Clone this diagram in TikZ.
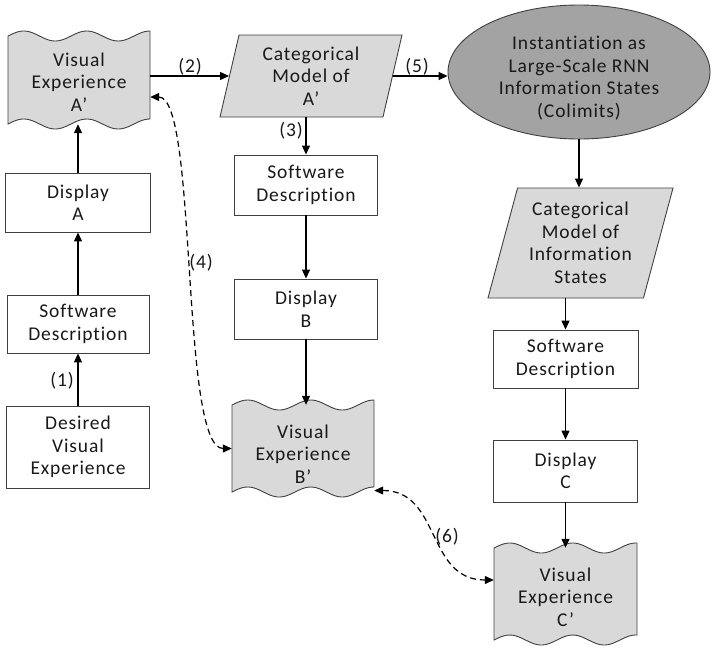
\documentclass[tikz,border=0pt]{standalone}
\usepackage{fontspec}
\setmainfont{Carlito}[LetterSpace=4.5,Ligatures=NoCommon]
\usetikzlibrary{shapes.geometric,arrows.meta,calc}
\newcommand\figfont{\fontsize{19.5}{22.5}\selectfont}
\definecolor{lightfill}{HTML}{D9D9D9}
\definecolor{darkfill}{HTML}{A3A3A3}
\definecolor{edge}{HTML}{404040}
\newcommand\wavydoc[7]{%
  \filldraw[wavestyle] plot[domain=#2:#4,samples=60,smooth] (\x,{#3-5*sin(5.7143*(\x-#2))})
    -- plot[domain=#4:#2,samples=60,smooth] (\x,{#5-5*sin(5.7143*(\x-#2))}) -- cycle;
  \node[inner sep=0pt, minimum width=#4-#2, minimum height=#5-#3] (#1) at ({(#2+#4)/2},{(#3+#5)/2}) {};
  \node[txt] (#1-t) at ({(#2+#4)/2},#6) {#7};
}
\begin{document}
\begin{tikzpicture}[x=1pt,y=-1pt,
  wavestyle/.style={draw=edge, line width=0.9pt, fill=lightfill},
  txt/.style={align=center, font=\figfont, inner sep=0pt, text=black!90},
  box/.style={txt, draw=edge, line width=0.9pt, fill=white, rectangle},
  para/.style={txt, draw=edge, line width=0.9pt, fill=lightfill, trapezium,
    trapezium stretches body, trapezium left angle=#1, trapezium right angle=180-#1},
  lbl/.style={font=\figfont, inner sep=0pt, text=black!90},
  arr/.style={line width=1.2pt, -{Triangle[length=9pt,width=8pt]}},
  darr/.style={line width=1.2pt, dashed, dash pattern=on 6pt off 4pt,
    {Triangle[length=9pt,width=8pt]}-{Triangle[length=9pt,width=8pt]}}
]
\useasboundingbox (0,0) rectangle (711,651);

% left column
\wavydoc{vea}{8}{36}{150}{124}{82}{Visual\\Experience\\A’}
\node[box, minimum width=145, minimum height=59] (dispa) at (78,202.5) {Display\\A};
\node[box, minimum width=142, minimum height=58] (sda) at (78,324) {Software\\Description};
\node[box, minimum width=143, minimum height=82] (dve) at (78,447) {Desired\\Visual\\Experience};

% middle column
\node[para=72, minimum width=182, minimum height=82] (cma) at (311,76) {Categorical\\Model of\\A’};
\node[box, minimum width=143, minimum height=60] (sdb) at (306,185) {Software\\Description};
\node[box, minimum width=143, minimum height=60] (dispb) at (306,309) {Display\\B};
\wavydoc{veb}{232}{405}{374}{492}{454}{Visual\\Experience\\B’}

% right column
\node[ellipse, draw=edge, line width=0.9pt, fill=darkfill, minimum width=262, minimum height=134,
  inner sep=0pt] (inst) at (579,72) {};
\node[txt] (inst-t) at (579,78) {Instantiation as\\Large-Scale RNN\\Information States\\(Colimits)};
\node[para=70, minimum width=185, minimum height=110] (cmi) at (580.5,243) {Categorical\\Model of\\Information\\States};
\node[box, minimum width=145, minimum height=58] (sdc) at (565.5,359) {Software\\Description};
\node[box, minimum width=144, minimum height=62] (dispc) at (565.5,471) {Display\\C};
\wavydoc{vec}{494}{548}{637}{640}{597}{Visual\\Experience\\C’}

% solid connectors
\draw[arr] (dve.north) -- (dve.north |- sda.south);
\draw[arr] (sda.north) -- (sda.north |- dispa.south);
\draw[arr] (dispa.north) -- (dispa.north |- vea.south);
\draw[arr] (vea.east |- cma.west) -- (cma.west);
\draw[arr] (cma.east) -- (inst.west |- cma.east);
\draw[arr] (sdb.north |- cma.south) -- (sdb.north);
\draw[arr] (sdb.south) -- (dispb.north);
\draw[arr] (dispb.south) -- (dispb.south |- veb.north);
\draw[arr] (inst.south) -- (inst.south |- cmi.north);
\draw[arr] (sdc.north |- cmi.south) -- (sdc.north);
\draw[arr] (sdc.south) -- (dispc.north);
\draw[arr] (dispc.south) -- (dispc.south |- vec.north);

% dashed connectors
\draw[darr] ([yshift=-17pt]vea.east) .. controls +(48,0) and +(-52,0) .. (veb.west);
\draw[darr] ([yshift=-42pt]veb.east) .. controls +(67,0) and +(-68,0) .. ([yshift=14pt]vec.west);

% labels
\node[lbl] (l1) at (62,381) {(1)};
\node[lbl] (l2) at (190,67) {(2)};
\node[lbl] (l3) at (291,131) {(3)};
\node[lbl] (l4) at (201,263) {(4)};
\node[lbl] (l5) at (417,67) {(5)};
\node[lbl] (l6) at (447,537) {(6)};
\end{tikzpicture}
\end{document}
